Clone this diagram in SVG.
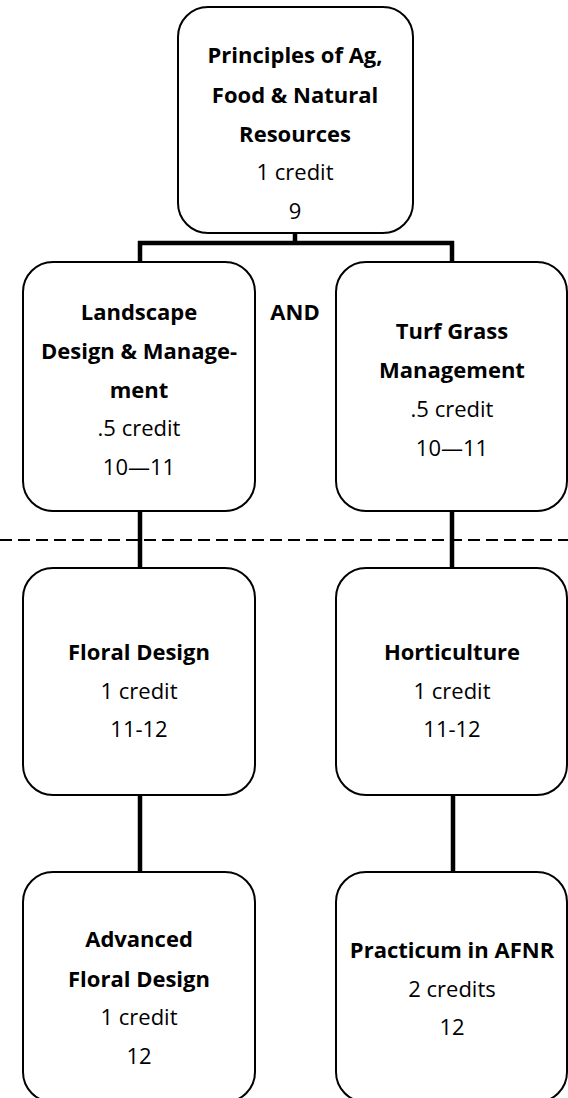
<svg xmlns="http://www.w3.org/2000/svg" width="568" height="1098" viewBox="0 0 568 1098">
<style>
.box{fill:#fff;stroke:#000;stroke-width:2}
.con{stroke:#000;stroke-width:4.5;fill:none}
.dash{stroke:#000;stroke-width:2;stroke-dasharray:12 6;fill:none}
text{font-family:"Open Sans","Liberation Sans",sans-serif;font-size:22px;text-anchor:middle;fill:#000}
.b{font-weight:bold}
</style>
<rect width="568" height="1098" fill="#fff"/>
<g id="connectors">
<path class="con" d="M295 233V243M138 243H454M140 241V262M452 241V262"/>
<path class="con" d="M140 511V568M452 511V568"/>
<path class="con" d="M140 795V872M453 795V872"/>
<path class="dash" d="M0 540H568"/>
</g>
<g id="principles">
<rect class="box" x="178" y="7" width="235" height="226" rx="30"/>
<text class="b" x="295" y="63">Principles of Ag,</text>
<text class="b" x="295" y="103">Food &amp; Natural</text>
<text class="b" x="295" y="142">Resources</text>
<text x="295" y="180">1 credit</text>
<text x="295" y="219">9</text>
</g>
<g id="and-label">
<text class="b" x="295" y="320">AND</text>
</g>
<g id="landscape">
<rect class="box" x="23" y="262" width="232" height="249" rx="30"/>
<text class="b" x="139" y="320">Landscape</text>
<text class="b" x="139" y="359">Design &amp; Manage-</text>
<text class="b" x="139" y="398">ment</text>
<text x="139" y="436">.5 credit</text>
<text x="139" y="475">10—11</text>
</g>
<g id="turf">
<rect class="box" x="336" y="262" width="231" height="249" rx="30"/>
<text class="b" x="452" y="339">Turf Grass</text>
<text class="b" x="452" y="378">Management</text>
<text x="452" y="417">.5 credit</text>
<text x="452" y="456">10—11</text>
</g>
<g id="floral">
<rect class="box" x="23" y="568" width="232" height="227" rx="30"/>
<text class="b" x="139" y="660">Floral Design</text>
<text x="139" y="699">1 credit</text>
<text x="139" y="737">11-12</text>
</g>
<g id="horticulture">
<rect class="box" x="336" y="568" width="231" height="227" rx="30"/>
<text class="b" x="452" y="660">Horticulture</text>
<text x="452" y="699">1 credit</text>
<text x="452" y="737">11-12</text>
</g>
<g id="advanced-floral">
<rect class="box" x="23" y="872" width="232" height="230" rx="30"/>
<text class="b" x="139" y="947">Advanced</text>
<text class="b" x="139" y="987">Floral Design</text>
<text x="139" y="1025">1 credit</text>
<text x="139" y="1064">12</text>
</g>
<g id="practicum">
<rect class="box" x="336" y="872" width="231" height="230" rx="30"/>
<text class="b" x="452" y="958">Practicum in AFNR</text>
<text x="452" y="997">2 credits</text>
<text x="452" y="1035">12</text>
</g>
</svg>
